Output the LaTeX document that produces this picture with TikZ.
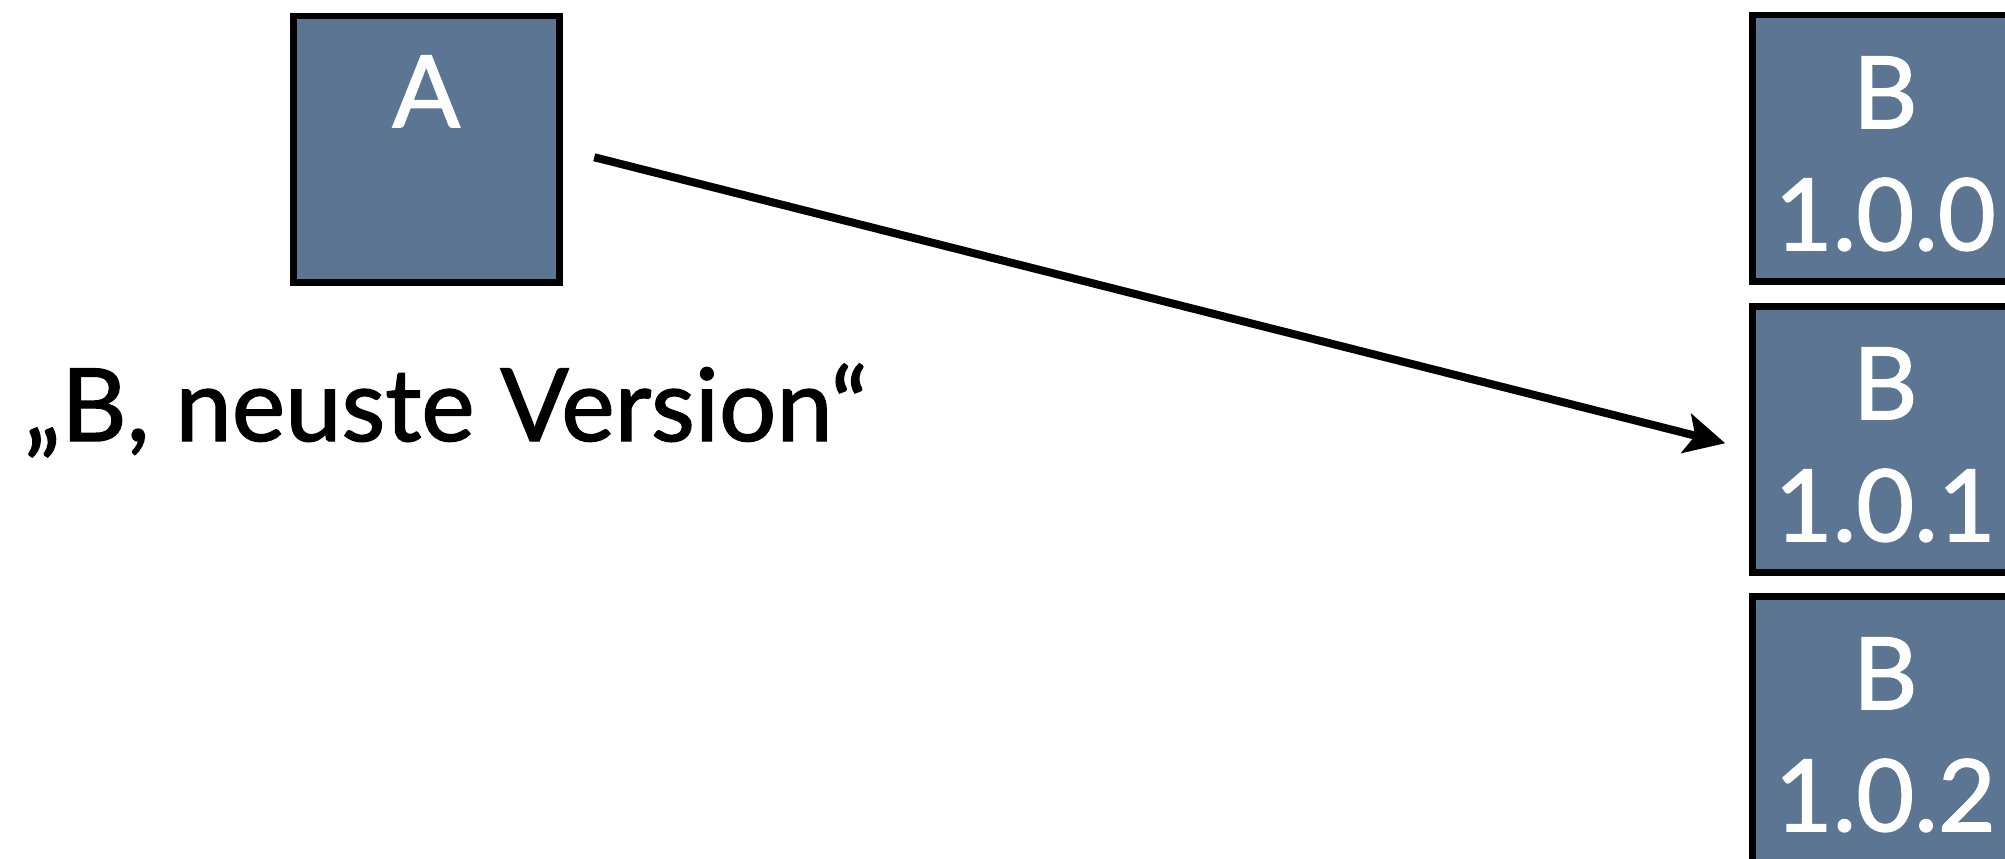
\documentclass[tikz,border=0pt]{standalone}
\usepackage{fontspec}
\setmainfont{Lato}[FakeBold=1.4]
\newfontfamily\heavy{Lato}[FakeBold=1.4]
\usetikzlibrary{arrows.meta,calc}
\definecolor{boxblue}{RGB}{91,117,147}
\tikzset{
  block/.style={draw=black, line width=6.5pt, fill=boxblue,
    minimum width=266pt, minimum height=266pt,
    inner sep=0pt, outer sep=0pt, anchor=north west},
  boxtext/.style={text=white, font=\heavy\fontsize{100}{100}\selectfont,
    inner sep=0pt, anchor=base},
  labeltext/.style={text=black, font=\heavy\fontsize{101}{101}\selectfont,
    inner sep=0pt, anchor=base west},
  link/.style={draw=black, line width=8pt,
    -{Stealth[length=40pt, width=40pt, inset=9pt]}}
}
\begin{document}
\begin{tikzpicture}[x=1pt, y=-1pt]
  \useasboundingbox (0,0) rectangle (2005,859);
  \clip (0,0) rectangle (2005,859);

  % module A and its three published versions of B
  \node[block] (A)    at (293.25, 16.25) {};
  \node[block] (B100) at (1752.25, 15.25) {};
  \node[block] (B101) at (1752.25, 306.25) {};
  \node[block] (B102) at (1752.25, 596.25) {};

  % box captions
  \node[boxtext] (tA) at ($(A.north)+(0,111)$) {A};
  \foreach \v/\n in {100/1.0.0, 101/1.0.1, 102/1.0.2}{
    \node[boxtext] (tB\v)  at ($(B\v.north)+(0,113)$) {B};
    \node[boxtext] (tV\v)  at ($(B\v.north)+(0,235)$) {\n};
  }

  % dependency label
  \node[labeltext] (dep) at (24,441) {„B, neuste Version“};

  % dependency resolved to the newest version
  \coordinate (start) at ($(A.east)+(35,8)$);
  \coordinate (end)   at ($(B101.west)+(-27,4)$);
  \draw[link] (start) -- (end);
\end{tikzpicture}
\end{document}
